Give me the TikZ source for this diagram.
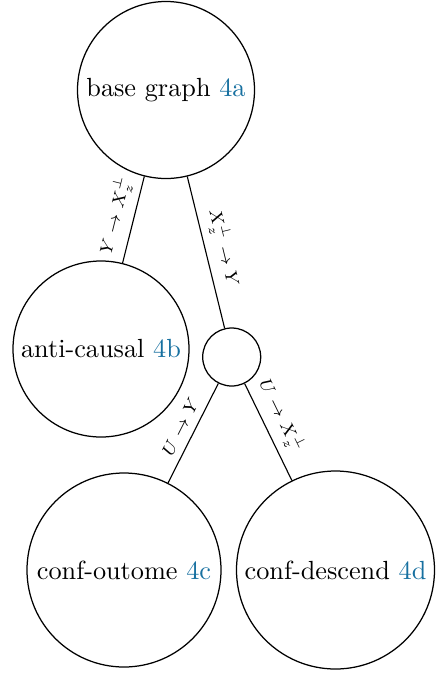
\documentclass[tikz,border=0pt]{standalone}
\definecolor{refblue}{RGB}{23,112,160}
\tikzset{
  bignode/.style={draw, circle, inner sep=0pt, line width=0.5pt, font=\fontsize{10.5}{12}\selectfont},
  elabel/.style={sloped, above, font=\scriptsize, inner sep=3pt},
  conn/.style={line width=0.45pt}
}
\begin{document}
\begin{tikzpicture}[x=0.4pt,y=-0.4pt]
\useasboundingbox (0,0) rectangle (435,675);
\node[bignode, minimum size=177*0.4pt] (base) at (166,90) {base graph \textcolor{refblue}{4a}};
\node[bignode, minimum size=176*0.4pt] (anti) at (101,349) {anti-causal \textcolor{refblue}{4b}};
\node[bignode, minimum size=58*0.4pt] (mid) at (231.7,357) {};
\node[bignode, minimum size=194*0.4pt] (outome) at (124,570) {conf-outome \textcolor{refblue}{4c}};
\node[bignode, minimum size=198*0.4pt] (descend) at (335.5,570) {conf-descend \textcolor{refblue}{4d}};
\draw[conn] (base) -- node[elabel] {$Y\to X_z^\perp$} (anti);
\draw[conn] (base) -- node[elabel] {$X_z^\perp\to Y$} (mid);
\draw[conn] (mid) -- node[elabel, pos=0.5] {$U\to Y$} (outome);
\draw[conn] (mid) -- node[elabel, pos=0.42] {$U\to X_z^\perp$} (descend);
\end{tikzpicture}
\end{document}
